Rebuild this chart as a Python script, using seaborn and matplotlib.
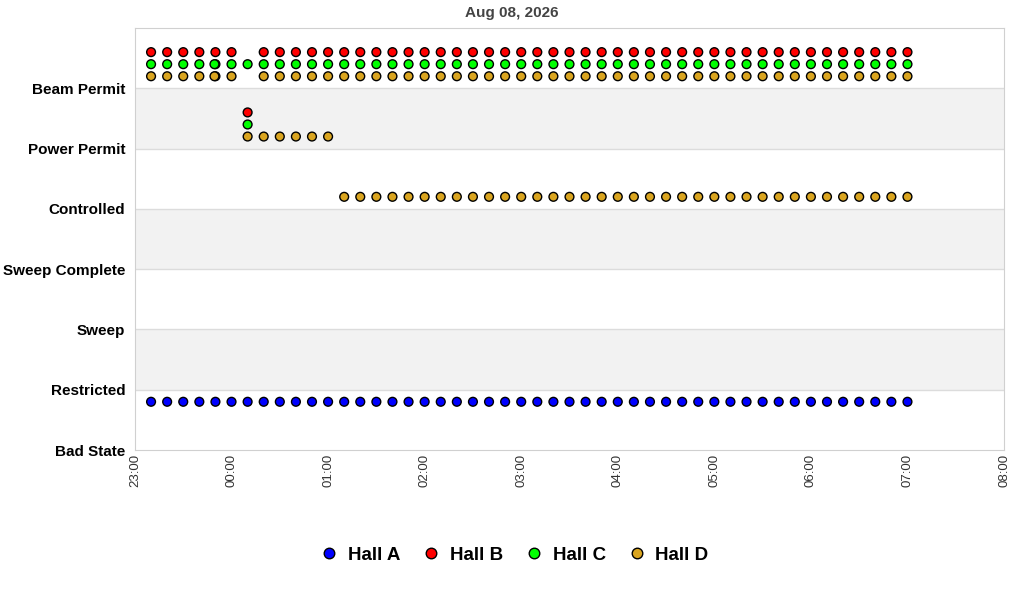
import pandas as pd
import matplotlib.pyplot as plt
import matplotlib.dates as mdates
import seaborn as sns

# === Data ===
states = ["Bad State", "Restricted", "Sweep", "Sweep Complete",
          "Controlled", "Power Permit", "Beam Permit"]

times = ["23:10", "23:20", "23:30", "23:40", "23:50", "00:00",
         "00:10", "00:20", "00:30", "00:40", "00:50", "01:00",
         "01:10", "01:20", "01:30", "01:40", "01:50", "02:00",
         "02:10", "02:20", "02:30", "02:40", "02:50", "03:00",
         "03:10", "03:20", "03:30", "03:40", "03:50", "04:00",
         "04:10", "04:20", "04:30", "04:40", "04:50", "05:00",
         "05:10", "05:20", "05:30", "05:40", "05:50", "06:00",
         "06:10", "06:20", "06:30", "06:40", "06:50", "07:00"]

# state index per sample time (None = no sample)
hall_a = [0, 0, 0, 0, 0, 0, 0, 0, 0, 0, 0, 0,
          0, 0, 0, 0, 0, 0, 0, 0, 0, 0, 0, 0,
          0, 0, 0, 0, 0, 0, 0, 0, 0, 0, 0, 0,
          0, 0, 0, 0, 0, 0, 0, 0, 0, 0, 0, 0]
hall_b = [6, 6, 6, 6, 6, 6, 5, 6, 6, 6, 6, 6,
          6, 6, 6, 6, 6, 6, 6, 6, 6, 6, 6, 6,
          6, 6, 6, 6, 6, 6, 6, 6, 6, 6, 6, 6,
          6, 6, 6, 6, 6, 6, 6, 6, 6, 6, 6, 6]
hall_c = [6, 6, 6, 6, 6, 6, 6, 6, 6, 6, 6, 6,
          6, 6, 6, 6, 6, 6, 6, 6, 6, 6, 6, 6,
          6, 6, 6, 6, 6, 6, 6, 6, 6, 6, 6, 6,
          6, 6, 6, 6, 6, 6, 6, 6, 6, 6, 6, 6]
hall_d = [6, 6, 6, 6, 6, 6, 5, 5, 5, 5, 5, 5,
          4, 4, 4, 4, 4, 4, 4, 4, 4, 4, 4, 4,
          4, 4, 4, 4, 4, 4, 4, 4, 4, 4, 4, 4,
          4, 4, 4, 4, 4, 4, 4, 4, 4, 4, 4, 4]
hall_d_beam = [None, None, None, None, None, None, None, 6, 6, 6, 6, 6,
               6, 6, 6, 6, 6, 6, 6, 6, 6, 6, 6, 6,
               6, 6, 6, 6, 6, 6, 6, 6, 6, 6, 6, 6,
               6, 6, 6, 6, 6, 6, 6, 6, 6, 6, 6, 6]

# a few extra samples between the regular ones
extra_hall = ["Hall C", "Hall C", "Hall D"]
extra_time = ["23:49:24", "00:10", "23:49:24"]
extra_state = [6, 5, 6]

halls = ["Hall A", "Hall B", "Hall C", "Hall D"]
colors = ["#0000FF", "#FF0000", "#00FF00", "#DAA520"]
offsets = {"Hall A": 0.8, "Hall B": 0.6, "Hall C": 0.4, "Hall D": 0.2}


def to_stamp(t):
    day = "2026-08-07" if t.startswith("23") else "2026-08-08"
    return pd.Timestamp(f"{day} {t}")


rows = []
for name, series in [("Hall A", hall_a), ("Hall B", hall_b), ("Hall C", hall_c),
                     ("Hall D", hall_d), ("Hall D", hall_d_beam)]:
    for t, s in zip(times, series):
        if s is not None:
            rows.append((to_stamp(t), name, s))
for name, t, s in zip(extra_hall, extra_time, extra_state):
    rows.append((to_stamp(t), name, s))

df = pd.DataFrame(rows, columns=["time", "hall", "state"])
df["y"] = df["state"] + df["hall"].map(offsets)

# === Plot ===
sns.set_style("white")
plt.rcParams["font.family"] = ["Liberation Sans", "DejaVu Sans"]

fig = plt.figure(figsize=(10.24, 6), dpi=100)
ax = fig.add_axes([0.1318, 0.25, 0.8487, 0.7033])

for lo in [1, 3, 5]:
    ax.axhspan(lo, lo + 1, color="#F2F2F2", zorder=0, lw=0)
for y in range(1, 7):
    ax.axhline(y, color="#DCDCDC", lw=1, zorder=0.5)

sns.scatterplot(data=df, x="time", y="y", hue="hall", hue_order=halls,
                palette=colors, s=40, edgecolor="black", linewidth=1,
                ax=ax, zorder=3)

ax.set_ylim(0, 7)
ax.set_yticks(range(7))
ax.set_yticklabels(states, fontweight="bold", fontsize=11, color="black")
ax.set_xlim(pd.Timestamp("2026-08-07 23:00"), pd.Timestamp("2026-08-08 08:00"))
ax.xaxis.set_major_locator(mdates.HourLocator())
ax.xaxis.set_major_formatter(mdates.DateFormatter("%H:%M"))
plt.setp(ax.get_xticklabels(), rotation=90, fontsize=9.5, color="#333333")
ax.tick_params(axis="y", length=0, pad=7)
ax.tick_params(axis="x", length=0, pad=3)
ax.set_xlabel("")
ax.set_ylabel("")
for sp in ax.spines.values():
    sp.set_color("#D0D0D0")

fig.suptitle("Aug 08, 2026", x=0.5, y=1 - 13 / 600, va="center",
             fontsize=11, fontweight="bold", color="#444444")

handles, labels = ax.get_legend_handles_labels()
ax.get_legend().remove()
fig.legend(handles, labels, loc="center", bbox_to_anchor=(0.502, 1 - 555 / 600),
           ncol=4, frameon=False, prop={"weight": "bold", "size": 13.5},
           handlelength=1.0, handletextpad=0.5, columnspacing=1.15,
           markerscale=1.2, labelcolor="black")

fig.savefig("out.png", dpi=100)
